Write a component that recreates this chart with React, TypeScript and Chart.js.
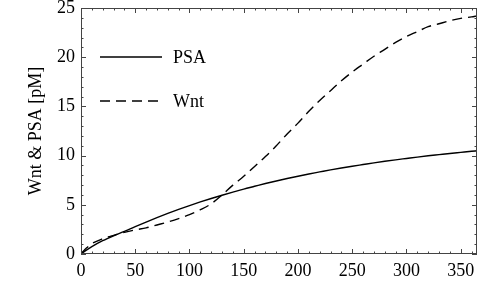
import React, { useEffect, useRef } from 'react';
import { Chart, registerables } from 'chart.js';

Chart.register(...registerables);

const days = [0, 5, 10, 20, 30, 40, 50, 60, 70, 80, 90, 100, 110, 120, 130, 140, 150, 160, 170, 180, 190, 200, 210, 220, 230, 240, 250, 260, 270, 280, 290, 300, 310, 320, 330, 340, 350, 360, 365];
const psaValues = [0, 0.4, 0.75, 1.35, 1.85, 2.3, 2.78, 3.24, 3.69, 4.12, 4.53, 4.92, 5.29, 5.64, 5.97, 6.29, 6.6, 6.88, 7.16, 7.42, 7.67, 7.9, 8.13, 8.34, 8.55, 8.74, 8.92, 9.09, 9.26, 9.42, 9.57, 9.71, 9.85, 9.98, 10.1, 10.22, 10.33, 10.44, 10.49];
const wntValues = [0.05, 0.6, 1.05, 1.55, 1.9, 2.2, 2.45, 2.65, 2.95, 3.25, 3.6, 4.0, 4.5, 5.1, 6.0, 7.0, 7.9, 8.9, 9.9, 11.0, 12.2, 13.3, 14.5, 15.6, 16.6, 17.6, 18.5, 19.3, 20.1, 20.8, 21.5, 22.1, 22.6, 23.1, 23.4, 23.7, 23.95, 24.1, 24.2];
const seriesLabels = ['PSA', 'Wnt'];
const xTickValues = [0, 50, 100, 150, 200, 250, 300, 350];
const yTickValues = [0, 5, 10, 15, 20, 25];
const yTitle = 'Wnt & PSA [pM]';

const FONT = "'Liberation Serif', 'Times New Roman', serif";
const DASH = [10, 6];

const frameTicksPlugin = {
  id: 'frameTicks',
  afterDraw(chart: any) {
    const { ctx, chartArea } = chart;
    const xs = chart.scales.x;
    const ys = chart.scales.y;
    const { left, right, top, bottom } = chartArea;
    ctx.save();
    ctx.strokeStyle = '#444';
    ctx.lineWidth = 1;
    ctx.strokeRect(left + 0.5, top + 0.5, right - left - 1, bottom - top - 1);
    ctx.beginPath();
    for (let v = 0; v <= xs.max; v += 10) {
      const px = Math.round(xs.getPixelForValue(v)) + 0.5;
      const len = v % 50 === 0 ? 5 : 2.5;
      ctx.moveTo(px, bottom);
      ctx.lineTo(px, bottom - len);
      ctx.moveTo(px, top);
      ctx.lineTo(px, top + len);
    }
    for (let v = 0; v <= ys.max; v += 1) {
      const py = Math.round(ys.getPixelForValue(v)) + 0.5;
      const len = v % 5 === 0 ? 5 : 2.5;
      ctx.moveTo(left, py);
      ctx.lineTo(left + len, py);
      ctx.moveTo(right, py);
      ctx.lineTo(right - len, py);
    }
    ctx.stroke();
    ctx.restore();
  },
};

const legendPlugin = {
  id: 'insideLegend',
  afterDraw(chart: any) {
    const { ctx, chartArea } = chart;
    const x0 = chartArea.left + 19;
    const x1 = chartArea.left + 81;
    const rows = [chartArea.top + 49, chartArea.top + 93];
    ctx.save();
    chart.data.datasets.forEach((ds: any, i: number) => {
      const y = rows[i];
      ctx.beginPath();
      ctx.strokeStyle = ds.borderColor;
      ctx.lineWidth = ds.borderWidth;
      ctx.setLineDash(ds.borderDash || []);
      ctx.moveTo(x0, y);
      ctx.lineTo(x1, y);
      ctx.stroke();
      ctx.setLineDash([]);
      ctx.fillStyle = '#000';
      ctx.font = `18px ${FONT}`;
      ctx.textBaseline = 'middle';
      ctx.textAlign = 'left';
      ctx.fillText(ds.label, x1 + 11, y + 1);
    });
    ctx.restore();
  },
};

export default function App() {
  const canvasRef = useRef<HTMLCanvasElement | null>(null);

  useEffect(() => {
    document.body.style.margin = '0';
    const canvas = canvasRef.current;
    if (!canvas) return;
    const chart = new Chart(canvas, {
      type: 'line',
      data: {
        datasets: [
          {
            label: seriesLabels[0],
            data: days.map((d, i) => ({ x: d, y: psaValues[i] })),
            borderColor: '#000',
            borderWidth: 1.4,
            pointRadius: 0,
            cubicInterpolationMode: 'monotone',
            fill: false,
          },
          {
            label: seriesLabels[1],
            data: days.map((d, i) => ({ x: d, y: wntValues[i] })),
            borderColor: '#000',
            borderWidth: 1.4,
            borderDash: DASH,
            pointRadius: 0,
            cubicInterpolationMode: 'monotone',
            fill: false,
          },
        ],
      },
      options: {
        animation: false,
        responsive: false,
        maintainAspectRatio: false,
        layout: { padding: { top: 8, right: 11, left: 0, bottom: 0 } },
        plugins: { legend: { display: false }, tooltip: { enabled: false } },
        scales: {
          x: {
            type: 'linear',
            min: 0,
            max: 365,
            grid: { display: false, drawTicks: false },
            border: { display: false },
            ticks: { color: '#000', font: { family: FONT, size: 18 }, padding: 6, maxRotation: 0 },
            afterBuildTicks: (scale: any) => {
              scale.ticks = xTickValues.map((v) => ({ value: v }));
            },
            afterFit: (scale: any) => {
              scale.height = 31;
              scale.paddingLeft = 0;
              scale.paddingRight = 0;
            },
          },
          y: {
            type: 'linear',
            min: 0,
            max: 25,
            grid: { display: false, drawTicks: false },
            border: { display: false },
            ticks: { color: '#000', font: { family: FONT, size: 18 }, padding: 6 },
            afterBuildTicks: (scale: any) => {
              scale.ticks = yTickValues.map((v) => ({ value: v }));
            },
            afterFit: (scale: any) => {
              scale.width = 81;
              scale.paddingTop = 0;
              scale.paddingBottom = 0;
            },
            title: {
              display: true,
              text: yTitle,
              color: '#000',
              font: { family: FONT, size: 18 },
              padding: { top: 25, bottom: 0 },
            },
          },
        },
      },
      plugins: [frameTicksPlugin, legendPlugin],
    });
    return () => chart.destroy();
  }, []);

  return (
    <div style={{ width: 488, height: 285 }}>
      <canvas ref={canvasRef} width={488} height={285} style={{ display: 'block' }} />
    </div>
  );
}
